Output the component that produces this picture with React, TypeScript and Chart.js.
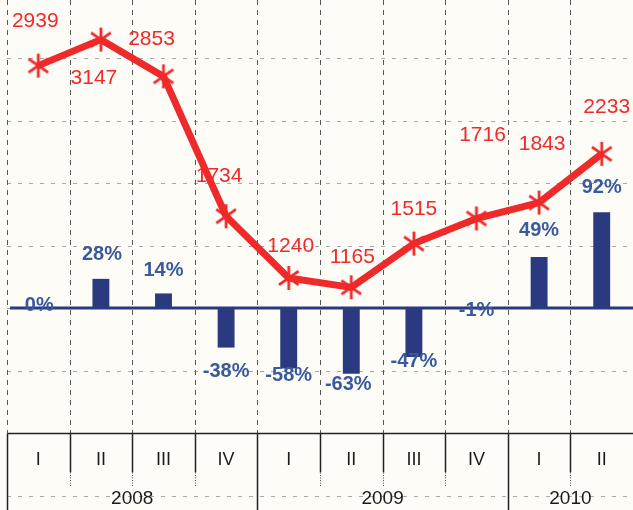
import React, { useEffect, useRef } from 'react';
import { Chart, registerables } from 'chart.js';

Chart.register(...registerables);

// ---- data ----
const quarters = ['I', 'II', 'III', 'IV', 'I', 'II', 'III', 'IV', 'I', 'II'];
const years = ['2008', '2009', '2010'];
const yearSpans = [4, 4, 2];
const salesValues = [2939, 3147, 2853, 1734, 1240, 1165, 1515, 1716, 1843, 2233];
const growthPct = [0, 28, 14, -38, -58, -63, -47, -1, 49, 92];
const salesGridValues = [500, 1000, 1500, 2000, 2500, 3000];

// ---- label placement (style, px offsets from each mark's end) ----
const salesLabelOffsets = [
  [-3, -44], [-7, 39], [-12, -37], [-7, -40], [2, -32],
  [1, -30], [0, -34], [6, -83], [3, -58], [5, -47],
];
const growthLabelOffsets = [
  [1, -3], [1, -24], [0, -23], [0, 24], [0, 7],
  [-3, 11], [0, 5], [0, 1], [0, -26], [0, -25],
];

const BG = '#fdfcf7';
const RED = '#ee2a2b';
const NAVY = '#2b3a80';
const BLUE_TEXT = '#3a5a9c';
const FONT = '"Liberation Sans", Arial, sans-serif';

function makeStar(): HTMLCanvasElement {
  const c = document.createElement('canvas');
  const s = 28;
  c.width = s;
  c.height = s;
  const g = c.getContext('2d')!;
  g.strokeStyle = RED;
  g.lineWidth = 2.8;
  g.lineCap = 'butt';
  const r = 12;
  const cx = s / 2;
  const cy = s / 2;
  [90, 35, 145].forEach((deg) => {
    const a = (deg * Math.PI) / 180;
    g.beginPath();
    g.moveTo(cx - r * Math.cos(a), cy - r * Math.sin(a));
    g.lineTo(cx + r * Math.cos(a), cy + r * Math.sin(a));
    g.stroke();
  });
  return c;
}

const decorPlugin = {
  id: 'decor',
  beforeDraw(chart: any) {
    const { ctx, width, chartArea, scales } = chart;
    ctx.save();
    ctx.fillStyle = BG;
    ctx.fillRect(0, 0, width, chart.height);

    // horizontal dashed grid
    ctx.strokeStyle = '#a9a9a9';
    ctx.lineWidth = 1;
    ctx.setLineDash([4, 7]);
    salesGridValues.forEach((v) => {
      const py = Math.round(scales.y.getPixelForValue(v)) + 0.5;
      ctx.beginPath();
      ctx.moveTo(chartArea.left, py);
      ctx.lineTo(width, py);
      ctx.stroke();
    });
    // dashed line inside table
    const tableRowY = Math.round(chartArea.bottom) + 63.5;
    ctx.beginPath();
    ctx.moveTo(chartArea.left, tableRowY);
    ctx.lineTo(width, tableRowY);
    ctx.stroke();

    // vertical dashed grid
    const x = scales.x;
    const half = (x.getPixelForValue(1) - x.getPixelForValue(0)) / 2;
    ctx.strokeStyle = '#555';
    ctx.setLineDash([5, 5]);
    for (let i = 0; i < quarters.length; i++) {
      const bx = Math.round(x.getPixelForValue(i) - half) + 0.5;
      ctx.beginPath();
      ctx.moveTo(bx, chartArea.top);
      ctx.lineTo(bx, chartArea.bottom);
      ctx.stroke();
    }
    ctx.restore();
  },
  beforeDatasetsDraw(chart: any) {
    const { ctx } = chart;
    ctx.save();
    // sales labels (under the line, as in the original)
    const lineMeta = chart.getDatasetMeta(0);
    ctx.font = `21px ${FONT}`;
    ctx.fillStyle = RED;
    ctx.textAlign = 'center';
    ctx.textBaseline = 'middle';
    salesValues.forEach((v, i) => {
      const el = lineMeta.data[i];
      const [dx, dy] = salesLabelOffsets[i];
      ctx.fillText(String(v), el.x + dx, el.y + dy);
    });
    ctx.restore();
  },
  afterDatasetsDraw(chart: any) {
    const { ctx, width, height, chartArea, scales } = chart;
    const x = scales.x;
    const half = (x.getPixelForValue(1) - x.getPixelForValue(0)) / 2;
    ctx.save();

    // zero line of growth bars
    const zy = scales.y1.getPixelForValue(0);
    ctx.strokeStyle = NAVY;
    ctx.lineWidth = 3;
    ctx.beginPath();
    ctx.moveTo(chartArea.left + 3, zy);
    ctx.lineTo(width, zy);
    ctx.stroke();

    // growth labels
    const barMeta = chart.getDatasetMeta(1);
    ctx.font = `bold 20px ${FONT}`;
    ctx.fillStyle = BLUE_TEXT;
    ctx.textAlign = 'center';
    ctx.textBaseline = 'middle';
    growthPct.forEach((v, i) => {
      const el = barMeta.data[i];
      const [dx, dy] = growthLabelOffsets[i];
      ctx.fillText(`${v}%`, el.x + dx, el.y + dy);
    });

    // table
    const top = Math.round(chartArea.bottom) + 0.5;
    const left = Math.round(chartArea.left) + 0.5;
    ctx.strokeStyle = '#222';
    ctx.lineWidth = 1.5;
    ctx.setLineDash([]);
    ctx.beginPath();
    ctx.moveTo(left, top);
    ctx.lineTo(width, top);
    ctx.moveTo(left, top);
    ctx.lineTo(left, height);
    ctx.stroke();

    const yearBoundaries = new Set<number>();
    let acc = 0;
    yearSpans.forEach((s) => {
      acc += s;
      yearBoundaries.add(acc);
    });
    for (let i = 1; i < quarters.length; i++) {
      const bx = Math.round(x.getPixelForValue(i) - half) + 0.5;
      ctx.setLineDash([]);
      ctx.lineWidth = 1.5;
      ctx.strokeStyle = '#222';
      ctx.beginPath();
      ctx.moveTo(bx, top);
      ctx.lineTo(bx, yearBoundaries.has(i) ? height : top + 39);
      ctx.stroke();
      if (!yearBoundaries.has(i)) {
        ctx.lineWidth = 1;
        ctx.strokeStyle = '#555';
        ctx.setLineDash([1, 1.5]);
        ctx.beginPath();
        ctx.moveTo(bx, top + 39);
        ctx.lineTo(bx, top + 53);
        ctx.stroke();
      }
    }

    ctx.setLineDash([]);
    ctx.fillStyle = '#1a1a1a';
    ctx.font = `18px ${FONT}`;
    quarters.forEach((q, i) => {
      ctx.fillText(q, x.getPixelForValue(i), top + 27);
    });
    ctx.font = `19px ${FONT}`;
    let start = 0;
    years.forEach((yr, k) => {
      const end = start + yearSpans[k] - 1;
      const cx = (x.getPixelForValue(start) + x.getPixelForValue(end)) / 2;
      ctx.fillText(yr, cx, top + 65);
      start = end + 1;
    });

    ctx.restore();
  },
};

export default function App() {
  const ref = useRef<HTMLCanvasElement | null>(null);

  useEffect(() => {
    if (!ref.current) return;
    const star = makeStar();
    const chart = new Chart(ref.current, {
      type: 'bar',
      data: {
        labels: quarters,
        datasets: [
          {
            type: 'line',
            label: 'sales',
            data: salesValues,
            yAxisID: 'y',
            borderColor: RED,
            backgroundColor: RED,
            borderWidth: 7,
            tension: 0,
            pointStyle: star as any,
            pointRadius: 13,
            order: 0,
            clip: false as any,
          } as any,
          {
            type: 'bar',
            label: 'growth',
            data: growthPct,
            yAxisID: 'y1',
            backgroundColor: NAVY,
            barPercentage: 0.27,
            categoryPercentage: 1,
            order: 1,
          },
        ],
      },
      options: {
        responsive: false,
        animation: false,
        devicePixelRatio: 1,
        layout: { autoPadding: false, padding: { left: 7, right: 0, top: 0, bottom: 77 } },
        plugins: { legend: { display: false }, tooltip: { enabled: false } },
        scales: {
          x: { display: false, offset: true },
          y: { display: false, min: 0, max: 3464 },
          y1: { display: false, min: -120, max: 295.7 },
        },
      },
      plugins: [decorPlugin],
    });
    return () => chart.destroy();
  }, []);

  return (
    <div style={{ position: 'fixed', left: 0, top: 0, width: 633, height: 510, background: BG }}>
      <canvas ref={ref} width={633} height={510} style={{ display: 'block' }} />
    </div>
  );
}
